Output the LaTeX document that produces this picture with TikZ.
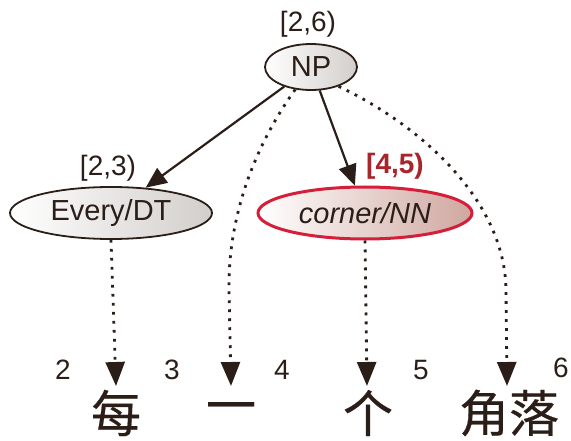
\documentclass[tikz,border=0pt]{standalone}
\usepackage{fontspec}
\setmainfont{Liberation Sans}
\newfontfamily\cjk[FakeBold=0.4]{Noto Sans CJK SC}
\usetikzlibrary{shapes.geometric,arrows.meta}
\definecolor{ink}{HTML}{2B1E18}
\definecolor{edgered}{HTML}{D51F3A}
\definecolor{labred}{HTML}{A8262B}
\definecolor{pinkfill}{HTML}{CFA79F}
\definecolor{grayfill}{HTML}{D2CECB}
\tikzset{
  tree/.style={ellipse, draw=ink, line width=1.8pt, inner sep=0pt, text=ink,
    font=\fontsize{29}{31}\selectfont, left color=white, right color=grayfill},
  hl/.style={tree, draw=edgered, line width=3pt, left color=white, right color=pinkfill,
    font=\fontsize{29}{31}\selectfont\itshape},
  spanlab/.style={text=ink, font=\fontsize{28}{30}\selectfont, inner sep=0pt},
  posnum/.style={text=ink, font=\fontsize{28}{30}\selectfont, inner sep=0pt},
  word/.style={text=ink, font=\cjk\fontsize{50}{52}\selectfont, inner sep=0pt},
  solidarrow/.style={draw=ink, line width=2.2pt, -{Triangle[length=21pt,width=18pt]}},
  dots/.style={draw=ink, line width=2.8pt, dash pattern=on 2.8pt off 6.2pt,
    -{Triangle[length=24pt,width=19pt]}},
}
\begin{document}
\begin{tikzpicture}[x=1pt,y=-1pt]
\useasboundingbox (0,0) rectangle (571,441);
% tree nodes
\node[tree, minimum width=92pt, minimum height=46pt] (np) at (311,67) {NP};
\node[tree, minimum width=202pt, minimum height=52pt] (every) at (111,213) {Every/DT};
\node[hl, minimum width=214pt, minimum height=52pt] (corner) at (365,213) {corner/NN};
% span labels
\node[spanlab] (l26) at (308,24) {[2,6)};
\node[spanlab] (l23) at (108,168) {[2,3)};
\node[spanlab, text=labred, font=\fontsize{28}{30}\selectfont\bfseries] (l45) at (395,166) {[4,5)};
% positions
\node[posnum] (p2) at (63,370) {2};
\node[posnum] (p3) at (172,370) {3};
\node[posnum] (p4) at (282,370) {4};
\node[posnum] (p5) at (421,370) {5};
\node[posnum] (p6) at (561,368) {6};
% words
\node[word] (w1) at (116,413) {每};
\node[word] (w2) at (231,413) {一};
\node[word] (w3) at (368,413) {个};
\node[word] (w4) at (509,413) {角落};
% arrow targets
\coordinate (t1) at (116,386);
\coordinate (t2) at (231,386);
\coordinate (t3) at (367,386);
\coordinate (t4) at (507,386);
% connectors
\draw[solidarrow] (np) -- (every);
\draw[solidarrow] (np) -- (corner);
\draw[dots] (every.south) -- (t1);
\draw[dots] (corner.south) -- (t3);
\draw[dots] (np.235) .. controls (252,150) and (228,220) .. (229,290) -- (t2);
\draw[dots] (np.325) .. controls (420,125) and (505,200) .. (506,290) -- (t4);
\end{tikzpicture}
\end{document}
